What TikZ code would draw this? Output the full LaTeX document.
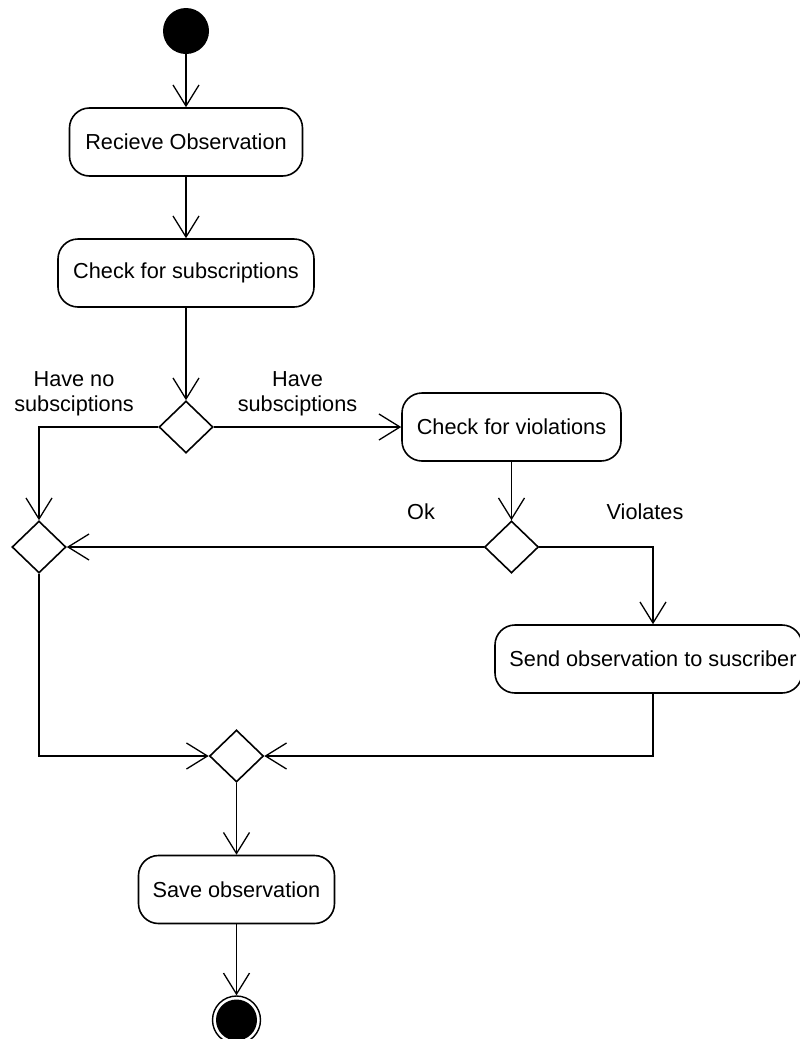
\documentclass[tikz,border=0pt]{standalone}
\usepackage{fontspec}
\setmainfont{Liberation Sans}
\usetikzlibrary{arrows.meta,shapes.geometric}
\begin{document}
\begin{tikzpicture}[x=1pt,y=-1pt,
  font=\fontsize{21.7}{25}\selectfont,
  action/.style={draw, line width=1.6pt, rounded corners=20pt, minimum height=68pt, inner sep=0pt},
  decision/.style={draw, diamond, line width=1.6pt, minimum width=54pt, minimum height=52pt, inner sep=0pt},
  flow/.style={line width=1.3pt, -{Straight Barb[length=21pt,width=26pt,line width=1.3pt]}},
  note/.style={inner sep=0pt, align=center}]
\useasboundingbox (0,0) rectangle (800,1039);
\fill[white] (0,0) rectangle (800,1039);
\clip (0,0) rectangle (800,1039);

% initial and final states
\node[circle, fill=black, minimum size=46pt, inner sep=0pt] (start) at (186,31) {};
\node[circle, draw, line width=1.4pt, minimum size=48pt, inner sep=0pt] (final) at (236.5,1020) {};
\node[circle, fill=black, minimum size=41pt, inner sep=0pt] (finalcore) at (final) {};

% actions
\node[action, minimum width=233pt] (recv) at (186,142) {Recieve Observation};
\node[action, minimum width=256pt] (subs) at (186,273) {Check for subscriptions};
\node[action, minimum width=219pt] (viol) at (511.5,427) {Check for violations};
\node[action, minimum width=307pt] (send) at (648.5,659) {\hspace*{9pt}Send observation to suscriber};
\node[action, minimum width=196pt] (save) at (236.5,889.5) {Save observation};

% decisions and merges
\node[decision] (d1) at (186,427) {};
\node[decision] (d2) at (39,547) {};
\node[decision] (d3) at (511.5,547) {};
\node[decision] (d4) at (236.5,756) {};

% guard labels
\node[note] (lnone) at (74,393.5) {Have no\\subsciptions};
\node[note] (lhave) at (297.5,393.5) {Have\\subsciptions};
\node[note, anchor=base] (lok) at (421,519.5) {Ok};
\node[note, anchor=base] (lviol) at (645,519.5) {Violates};

% control flow
\draw[flow] (start) -- (recv);
\draw[flow] (recv) -- (subs);
\draw[flow] (subs) -- (d1);
\draw[flow] (d1) -- (viol);
\draw[flow] (d1.west) -| (d2.north);
\draw[flow] (viol) -- (d3);
\draw[flow] (d3) -- (d2);
\draw[flow] (d3.east) -| ([xshift=4.5pt]send.north);
\draw[flow] (d2.south) |- (d4.west);
\draw[flow] ([xshift=4.5pt]send.south) |- (d4.east);
\draw[flow] (d4) -- (save);
\draw[flow] (save) -- (final);
\end{tikzpicture}
\end{document}
